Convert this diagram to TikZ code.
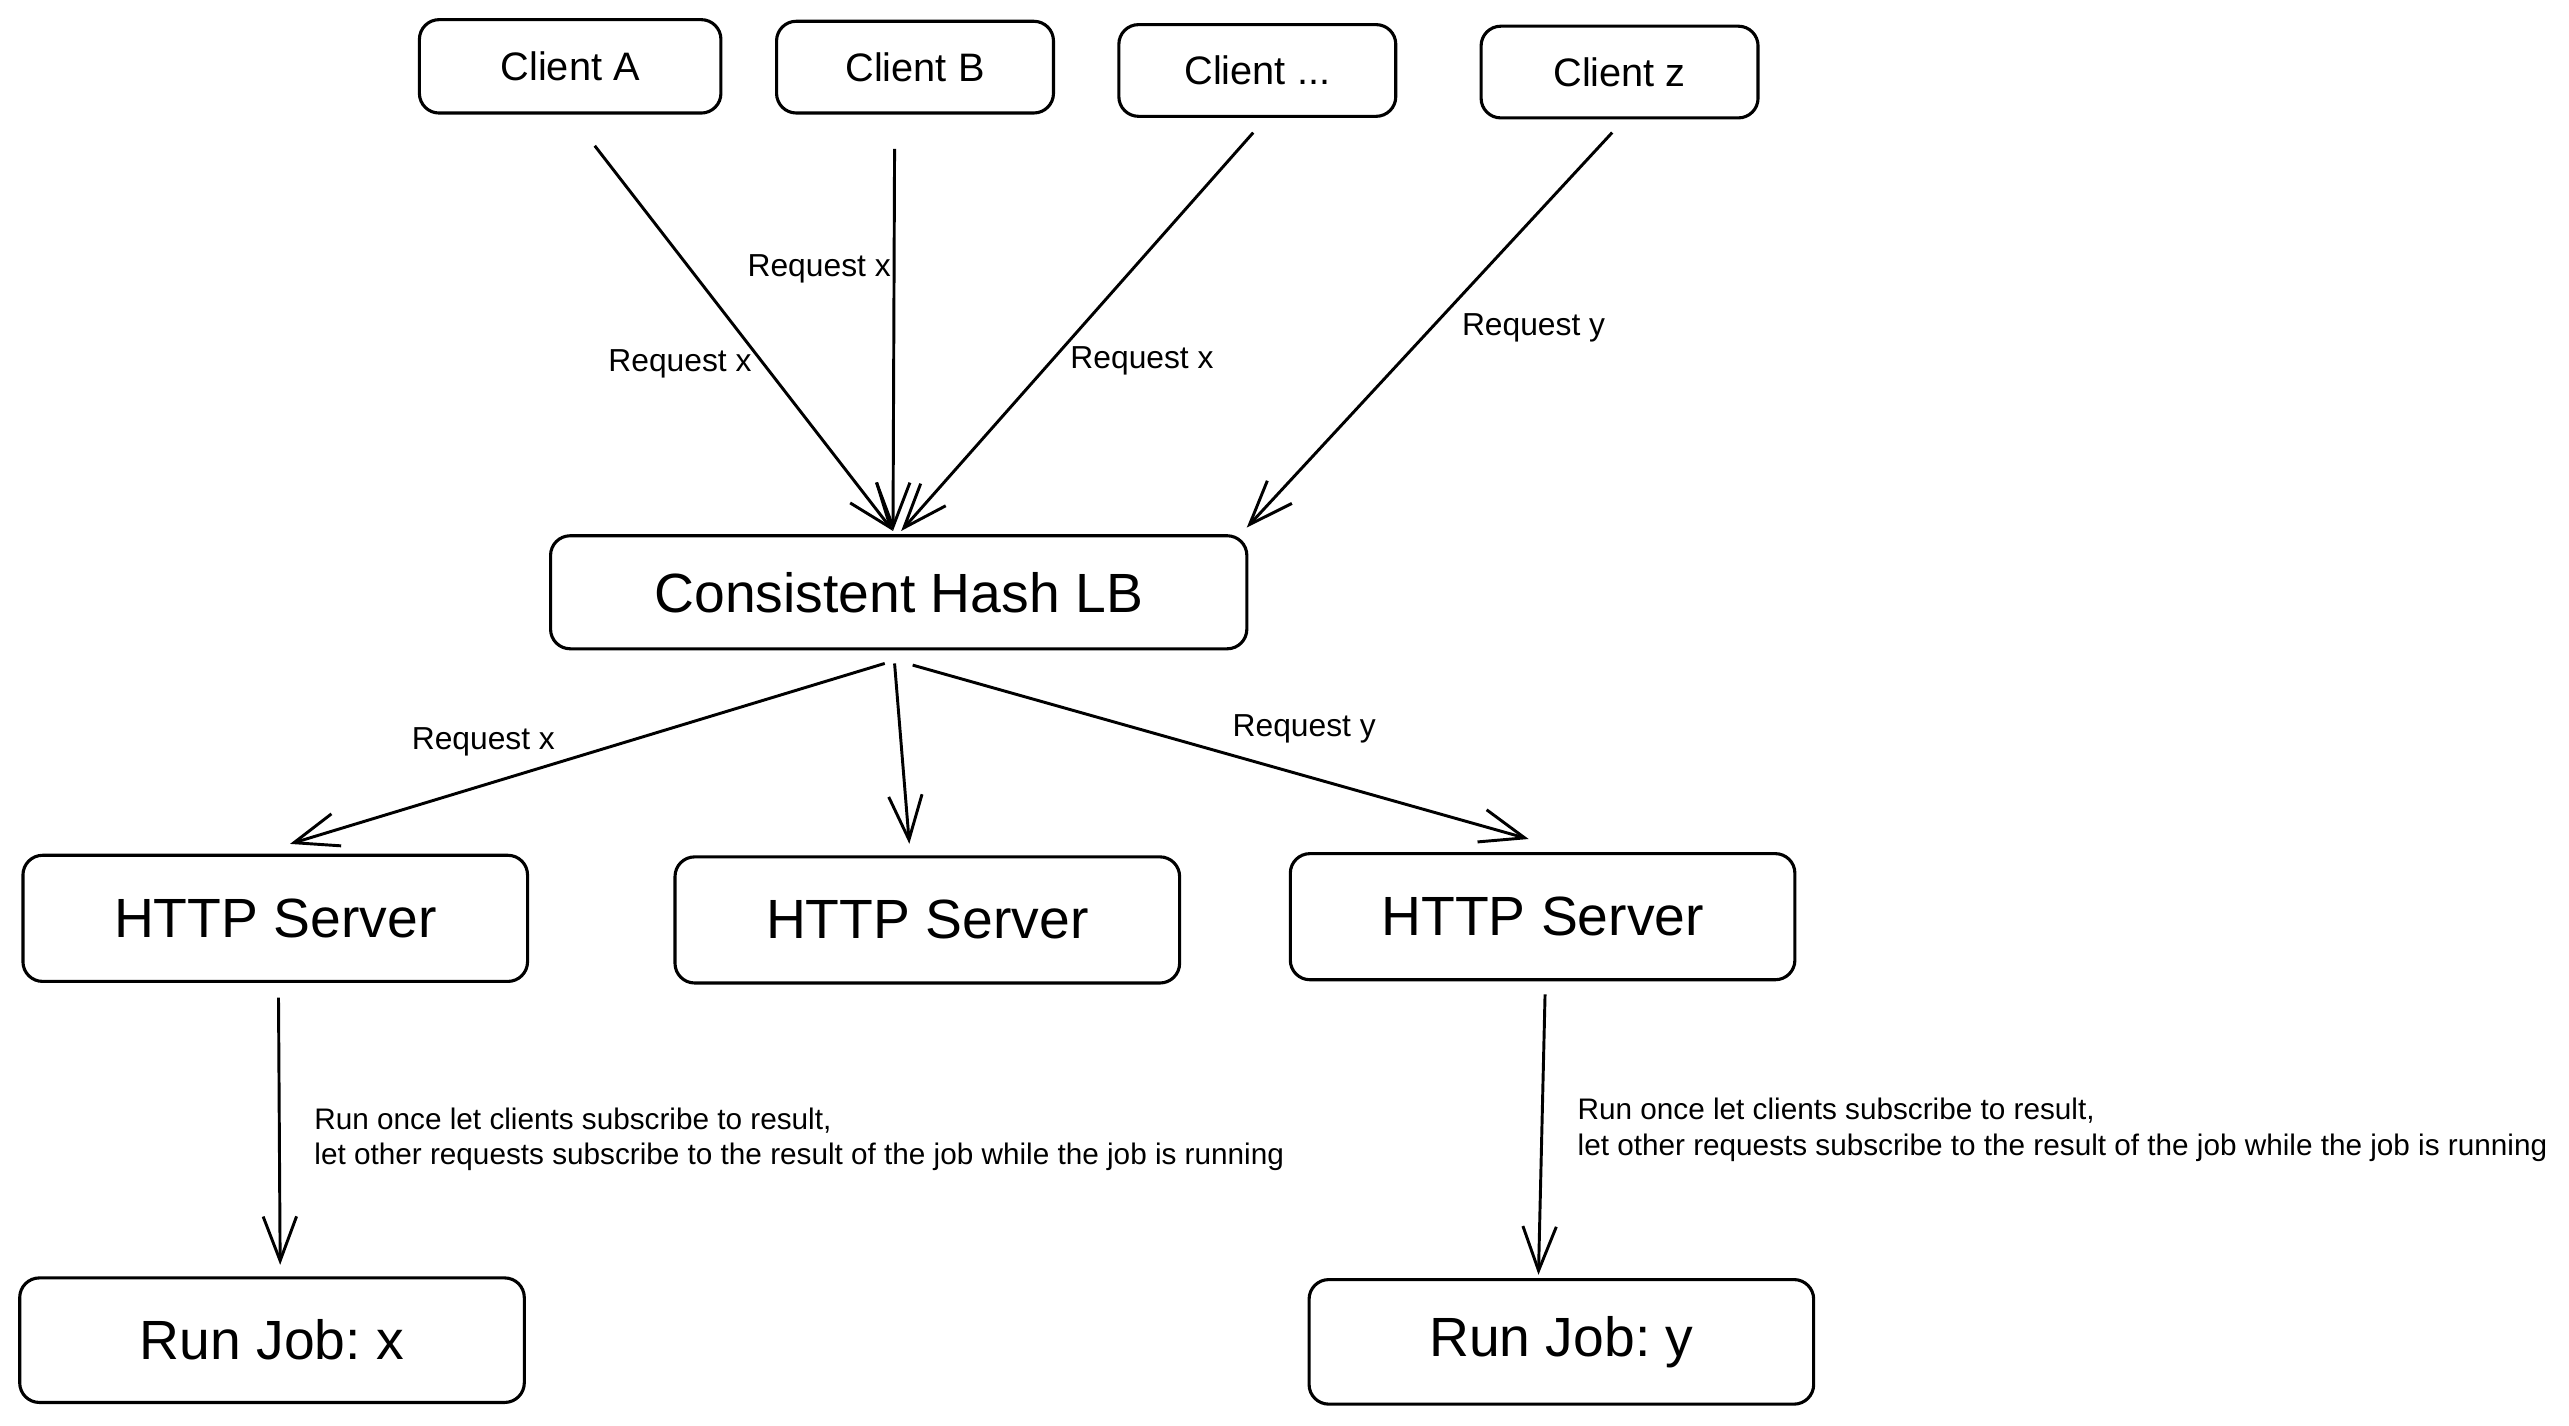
\documentclass[tikz,border=0pt]{standalone}
\usepackage{fontspec}
\setmainfont{Liberation Sans}
\usetikzlibrary{arrows.meta}
\frenchspacing
\begin{document}
\begin{tikzpicture}[
        line width=0.9pt,
        font=\rmfamily,
        >={Straight Barb[length=4.5mm,width=3.4mm]}
    ]
    \tikzset{
        clientbox/.style = {rectangle, rounded corners=0.2cm, draw=black, minimum width=2.817cm, minimum height=0.933cm, font=\fontsize{11.5}{13}\selectfont},
        bigbox/.style = {rectangle, rounded corners=0.2cm, draw=black, minimum width=5.133cm, minimum height=1.283cm, font=\fontsize{16}{19}\selectfont},
        req/.style = {font=\fontsize{9.2}{11}\selectfont, inner sep=0pt},
        note/.style = {font=\fontsize{8.6}{10.2}\selectfont, align=left, anchor=west, inner sep=0pt},
        flow/.style = {->, line width=0.85pt},
    }
    \useasboundingbox (0,0) rectangle (26.133,-14.5);
    % clients
    \node[clientbox, minimum width=3.067cm, minimum height=0.95cm] (clientA) at (5.8,-0.675) {Client A};
    \node[clientbox] (clientB) at (9.308,-0.683) {Client B};
    \node[clientbox] (clientN) at (12.79,-0.717) {Client ...};
    \node[clientbox] (clientZ) at (16.475,-0.733) {Client z};
    % balancer
    \node[bigbox, minimum width=7.083cm, minimum height=1.15cm] (lb) at (9.142,-6.025) {Consistent Hash LB};
    % servers
    \node[bigbox] (http1) at (2.8,-9.342) {HTTP Server};
    \node[bigbox] (http2) at (9.433,-9.358) {HTTP Server};
    \node[bigbox] (http3) at (15.692,-9.325) {HTTP Server};
    % jobs
    \node[bigbox, minimum height=1.267cm] (jobx) at (2.767,-13.633) {Run Job: x};
    \node[bigbox, minimum height=1.267cm] (joby) at (15.883,-13.65) {Run Job: y};

    \draw[flow] ([xshift=0.25cm,yshift=-0.317cm]clientA.south) -- ([xshift=-0.058cm,yshift=0.033cm]lb.north);
    \draw[flow] ([xshift=-0.208cm,yshift=-0.35cm]clientB.south) -- ([xshift=-0.058cm,yshift=0.033cm]lb.north);
    \draw[flow] ([xshift=-0.042cm,yshift=-0.15cm]clientN.south) -- ([xshift=0.025cm,yshift=0.033cm]lb.north);
    \draw[flow] ([xshift=-0.075cm,yshift=-0.133cm]clientZ.south) -- ([xshift=-0.017cm,yshift=0.067cm]lb.north east);

    \draw[flow] ([xshift=-0.142cm,yshift=-0.133cm]lb.south) -- ([xshift=0.15cm,yshift=0.1cm]http1.north);
    \draw[flow] ([xshift=-0.042cm,yshift=-0.133cm]lb.south) -- ([xshift=-0.183cm,yshift=0.117cm]http2.north);
    \draw[flow] ([xshift=0.142cm,yshift=-0.15cm]lb.south) -- ([xshift=-0.142cm,yshift=0.133cm]http3.north);

    \draw[flow] ([xshift=0.033cm,yshift=-0.15cm]http1.south) -- ([xshift=0.083cm,yshift=0.117cm]jobx.north);
    \draw[flow] ([xshift=0.025cm,yshift=-0.133cm]http3.south) -- ([xshift=-0.233cm,yshift=0.033cm]joby.north);

    % labels
    \node[req] (reqA) at (6.917,-3.7) {Request x};
    \node[req] (reqB) at (8.333,-2.733) {Request x};
    \node[req] (reqN) at (11.617,-3.667) {Request x};
    \node[req] (reqZ) at (15.6,-3.333) {Request y};
    \node[req] (reqH1) at (4.917,-7.55) {Request x};
    \node[req] (reqH3) at (13.267,-7.417) {Request y};
    \node[note] (noteX) at (3.183,-11.592) {Run once let clients subscribe to result,\\let other requests subscribe to the result of the job while the job is running};
    \node[note] (noteY) at (16.033,-11.492) {Run once let clients subscribe to result,\\let other requests subscribe to the result of the job while the job is running};
\end{tikzpicture}
\end{document}
